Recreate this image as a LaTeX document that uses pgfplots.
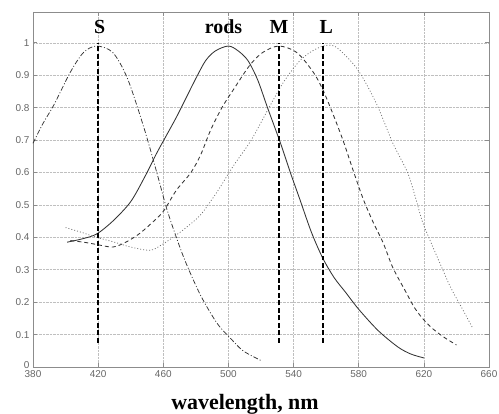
\documentclass[border=0pt]{standalone}
\usepackage{pgfplots}
\pgfplotsset{compat=1.18}
\usepackage{fontspec}
\setmainfont{Liberation Serif}
\newfontfamily\ticksfont{Liberation Sans}

\definecolor{curve}{gray}{0.2}
\definecolor{frame}{gray}{0.55}

\begin{document}
\begin{tikzpicture}
\useasboundingbox (0,0) rectangle (499bp,414bp);
\begin{axis}[
    at={(33bp,47bp)}, anchor=south west,
    scale only axis,
    width=456bp, height=355bp,
    xmin=380, xmax=660, ymin=0, ymax=1.095,
    xtick={380,420,460,500,540,580,620,660},
    ytick={0,0.1,0.2,0.3,0.4,0.5,0.6,0.7,0.8,0.9,1},
    yticklabels={\raisebox{4bp}{0},0.1,0.2,0.3,0.4,0.5,0.6,0.7,0.8,0.9,1},
    tick align=inside,
    major tick length=4bp,
    tick style={frame, line width=0.6pt},
    axis line style={frame, line width=0.8pt},
    grid=major,
    grid style={densely dotted, gray!50, line width=0.5pt},
    tick label style={font=\ticksfont\fontsize{10}{12}\selectfont, text=gray!80!black},
    /pgf/number format/assume math mode=true,
    xlabel={wavelength, nm},
    xlabel style={font=\bfseries\fontsize{22}{24}\selectfont, anchor=base,
        at={(axis description cs:0.465,-0.121)}},
    clip=false,
]
% rods (solid)
\addplot[curve, line width=0.85pt, smooth] coordinates {
(401,0.385)(410,0.395)(419,0.41)(429,0.45)(440,0.51)(449,0.59)(456,0.66)
(462,0.715)(468,0.77)(474,0.83)(480,0.89)(486,0.945)(492,0.975)(500,0.99)
(506,0.975)(512,0.945)(518,0.885)(524,0.80)(532,0.69)(538,0.60)(544,0.515)
(551,0.415)(558,0.335)(565,0.275)(572,0.23)(580,0.178)(592,0.112)(604,0.062)
(612,0.04)(620,0.028)};
% S (dash-dot)
\addplot[curve, line width=0.75pt, smooth, dash pattern=on 5pt off 2pt on 1pt off 2pt] coordinates {
(380,0.69)(386,0.75)(393,0.81)(403,0.91)(411,0.97)(419,0.99)(429,0.97)
(438,0.89)(448,0.74)(456,0.60)(462,0.49)(468,0.40)(474,0.32)(483,0.22)
(493,0.135)(501,0.09)(509,0.05)(520,0.02)};
% M (dashed)
\addplot[curve, line width=0.85pt, smooth, dash pattern=on 4pt off 3pt] coordinates {
(403,0.39)(411,0.385)(419,0.378)(429,0.37)(437,0.385)(445,0.41)(452,0.44)
(460,0.48)(468,0.545)(477,0.60)(483,0.655)(489,0.73)(496,0.80)(503,0.855)
(513,0.93)(521,0.97)(531,0.99)(542,0.97)(552,0.91)(558,0.855)(565,0.77)
(571,0.69)(577,0.60)(583,0.515)(589,0.445)(595,0.383)(601,0.306)(609,0.231)
(614,0.185)(619,0.151)(625,0.12)(632,0.093)(640,0.068)};
% L (dotted)
\addplot[curve!70, line width=0.75pt, smooth, dash pattern=on 1pt off 2pt] coordinates {
(400,0.43)(410,0.415)(419,0.40)(430,0.385)(440,0.37)(452,0.36)(459,0.377)
(466,0.40)(474,0.43)(483,0.47)(493,0.54)(503,0.62)(514,0.70)(526,0.81)
(534,0.88)(543,0.94)(550,0.97)(558,0.99)(565,0.99)(572,0.96)(579,0.92)
(585,0.87)(592,0.80)(601,0.69)(610,0.60)(615,0.52)(619,0.45)(623,0.40)
(629,0.33)(636,0.25)(643,0.185)(650,0.12)};
% peak markers
\addplot[black, line width=1.3pt, dash pattern=on 5pt off 2.5pt] coordinates {(420,0.075)(420,1.0)};
\addplot[black, line width=1.3pt, dash pattern=on 5pt off 2.5pt] coordinates {(531,0.075)(531,1.0)};
\addplot[black, line width=1.3pt, dash pattern=on 5pt off 2.5pt] coordinates {(558,0.075)(558,1.0)};
\node[font=\bfseries\fontsize{20}{22}\selectfont] at (axis cs:421,1.05) {S};
\node[font=\bfseries\fontsize{20}{22}\selectfont] at (axis cs:497,1.05) {rods};
\node[font=\bfseries\fontsize{20}{22}\selectfont] at (axis cs:531,1.05) {M};
\node[font=\bfseries\fontsize{20}{22}\selectfont] at (axis cs:560,1.05) {L};
\end{axis}
\end{tikzpicture}
\end{document}
